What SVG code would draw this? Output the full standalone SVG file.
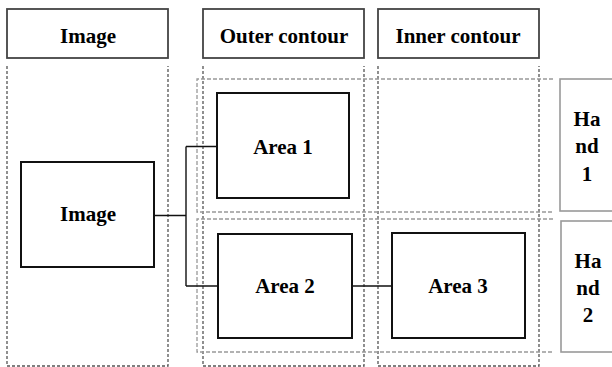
<svg xmlns="http://www.w3.org/2000/svg" width="612" height="367" viewBox="0 0 612 367">
<style>
text{font-family:"Liberation Serif","Times New Roman",serif;font-weight:bold;font-size:21px;fill:#000;text-anchor:middle}
.hdr{fill:#fff;stroke:#444;stroke-width:1.8}
.box{fill:#fff;stroke:#111;stroke-width:2}
.hand{fill:#fff;stroke:#999;stroke-width:1.6}
.col{fill:none;stroke:#555;stroke-width:1.3;stroke-dasharray:3 2}
.row{fill:none;stroke:#999;stroke-width:1.3;stroke-dasharray:4 2}
.con{fill:none;stroke:#111;stroke-width:1.4}
</style>
<rect width="612" height="367" fill="#fff"/>
<g id="columns">
<path class="col" d="M7,66 V366 H168 V66"/>
<path class="col" d="M203,66 V366 H364 V66"/>
<path class="col" d="M378,66 V366 H539 V66"/>
</g>
<g id="rows">
<path class="row" d="M553,79 H197 V212 H553"/>
<path class="row" d="M553,219 H197 V352 H553"/>
</g>
<g id="hdr-image"><rect class="hdr" x="7" y="9" width="161" height="49"/><text x="88" y="43">Image</text></g>
<g id="hdr-outer"><rect class="hdr" x="203" y="9" width="161" height="49"/><text x="284" y="43">Outer contour</text></g>
<g id="hdr-inner"><rect class="hdr" x="378" y="9" width="161" height="49"/><text x="458" y="43">Inner contour</text></g>
<g id="hand1"><rect class="hand" x="560" y="79" width="60" height="132"/><text x="587" y="126">Ha</text><text x="587" y="153">nd</text><text x="587" y="181">1</text></g>
<g id="hand2"><rect class="hand" x="561" y="221" width="60" height="131"/><text x="588" y="268">Ha</text><text x="588" y="295">nd</text><text x="588" y="322">2</text></g>
<g id="connectors">
<path class="con" d="M154,215.5 H186 M186,146.5 V286 M186,146.5 H217 M186,286 H218 M352,286 H392"/>
</g>
<g id="image"><rect class="box" x="21" y="162" width="133" height="105"/><text x="88" y="221">Image</text></g>
<g id="area1"><rect class="box" x="217" y="93" width="132" height="105"/><text x="283" y="154">Area 1</text></g>
<g id="area2"><rect class="box" x="218" y="234" width="134" height="104"/><text x="285" y="293">Area 2</text></g>
<g id="area3"><rect class="box" x="392" y="233" width="133" height="105"/><text x="458" y="293">Area 3</text></g>
</svg>
